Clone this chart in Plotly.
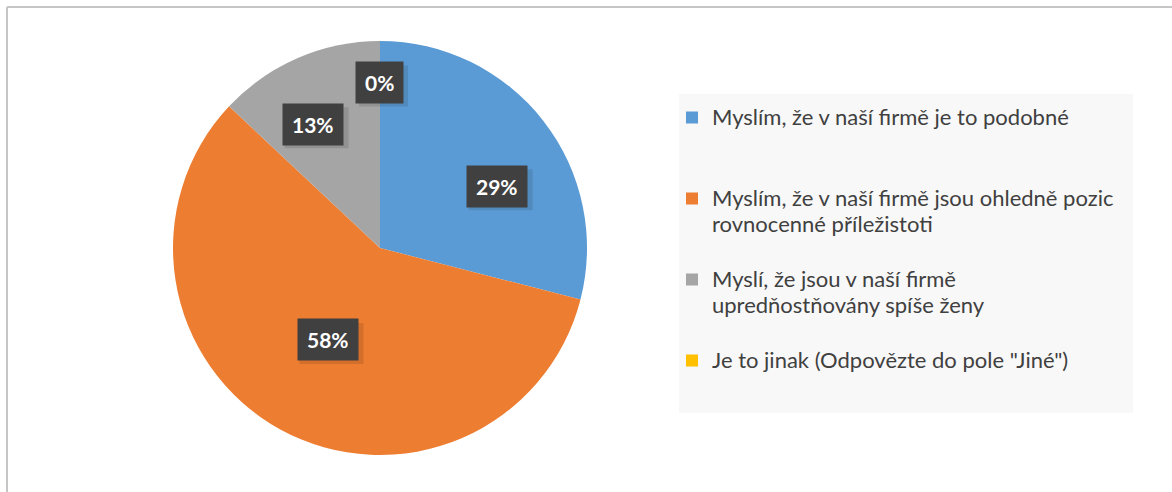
import math
import plotly.graph_objects as go

# ---- data ----
categories = [
    "Myslím, že v naší firmě je to podobné",
    "Myslím, že v naší firmě jsou ohledně pozic<br>rovnocenné příležistoti",
    "Myslí, že jsou v naší firmě<br>upredňostňovány spíše ženy",
    "Je to jinak (Odpovězte do pole \"Jiné\")",
]
values = [29, 58, 13, 0]
pct_labels = ["29%", "58%", "13%", "0%"]

# ---- style ----
colors = ["#5B9BD5", "#ED7D31", "#A5A5A5", "#FFC000"]
W, H = 1172, 492
CX, CY, R = 380, 248, 207          # pie centre / radius in px
label_r = [0.64, 0.51, 0.68, 0.80]  # label radius fraction
label_dang = [10, 0.7, -5, 0]       # label angle tweak (deg)
FONT = "Lato, 'Open Sans', sans-serif"
LEG_SIZE = 22

# pad legend entries to equal slot heights (3 lines), text drawn larger than line unit
legend_text = []
for c in categories:
    lines = c.split("<br>")
    lines += [" "] * (3 - len(lines))
    legend_text.append("<br>".join(
        "<span style='font-size:%dpx'>%s</span>" % (LEG_SIZE, ln) for ln in lines))

fig = go.Figure()
fig.add_trace(go.Pie(
    labels=legend_text,
    values=values,
    sort=False,
    direction="clockwise",
    rotation=0,
    marker=dict(colors=colors, line=dict(width=0)),
    textinfo="none",
    hoverinfo="percent",
    domain=dict(x=[(CX - R) / W, (CX + R) / W],
                y=[1 - (CY + R) / H, 1 - (CY - R) / H]),
))

# data labels computed from slice angles
total = sum(values)
cum = 0
annotations = []
shapes = []
for i, v in enumerate(values):
    mid = (cum + v / 2) / total * 360 + label_dang[i]
    cum += v
    a = math.radians(mid)
    px = CX + label_r[i] * R * math.sin(a)
    py = CY - label_r[i] * R * math.cos(a)
    xp, yp = px / W, 1 - py / H
    annotations.append(dict(
        x=xp, y=yp, xref="paper", yref="paper", xanchor="center", yanchor="middle",
        showarrow=False, text="<b>%s</b>" % pct_labels[i],
        font=dict(family=FONT, size=21, color="white"),
        bgcolor="#404040", borderpad=9, height=23))
    bw = 18 + 15 * len(pct_labels[i])
    shapes.append(dict(
        type="rect", xref="paper", yref="paper", xsizemode="pixel", ysizemode="pixel",
        xanchor=xp, yanchor=yp, x0=-bw / 2 + 3, x1=bw / 2 + 4, y0=-20 - 4, y1=20 - 3,
        fillcolor="rgba(0,0,0,0.11)", line=dict(width=0), layer="above"))

shapes = [
    # chart frame (top and left)
    dict(type="line", xref="paper", yref="paper", x0=7 / W, x1=1, y0=1 - 7 / H, y1=1 - 7 / H,
         line=dict(color="#C6C6C6", width=2)),
    dict(type="line", xref="paper", yref="paper", x0=7 / W, x1=7 / W, y0=0, y1=1 - 7 / H,
         line=dict(color="#C6C6C6", width=2)),
    # legend panel
    dict(type="rect", xref="paper", yref="paper", x0=679 / W, x1=1133 / W,
         y0=1 - 413 / H, y1=1 - 94 / H, fillcolor="#F8F8F8", line=dict(width=0), layer="below"),
] + shapes

fig.update_layout(
    width=W, height=H,
    margin=dict(l=0, r=0, t=0, b=0),
    paper_bgcolor="white",
    plot_bgcolor="white",
    showlegend=True,
    legend=dict(
        x=672 / W, y=1 - 98 / H, xanchor="left", yanchor="top",
        bgcolor="rgba(0,0,0,0)",
        font=dict(family=FONT, size=20, color="#404040"),
        valign="top",
        traceorder="normal",
    ),
    annotations=annotations,
    shapes=shapes,
)

fig.write_html("out.html", config={"displayModeBar": False},
               post_script="document.body.style.margin='0';")
